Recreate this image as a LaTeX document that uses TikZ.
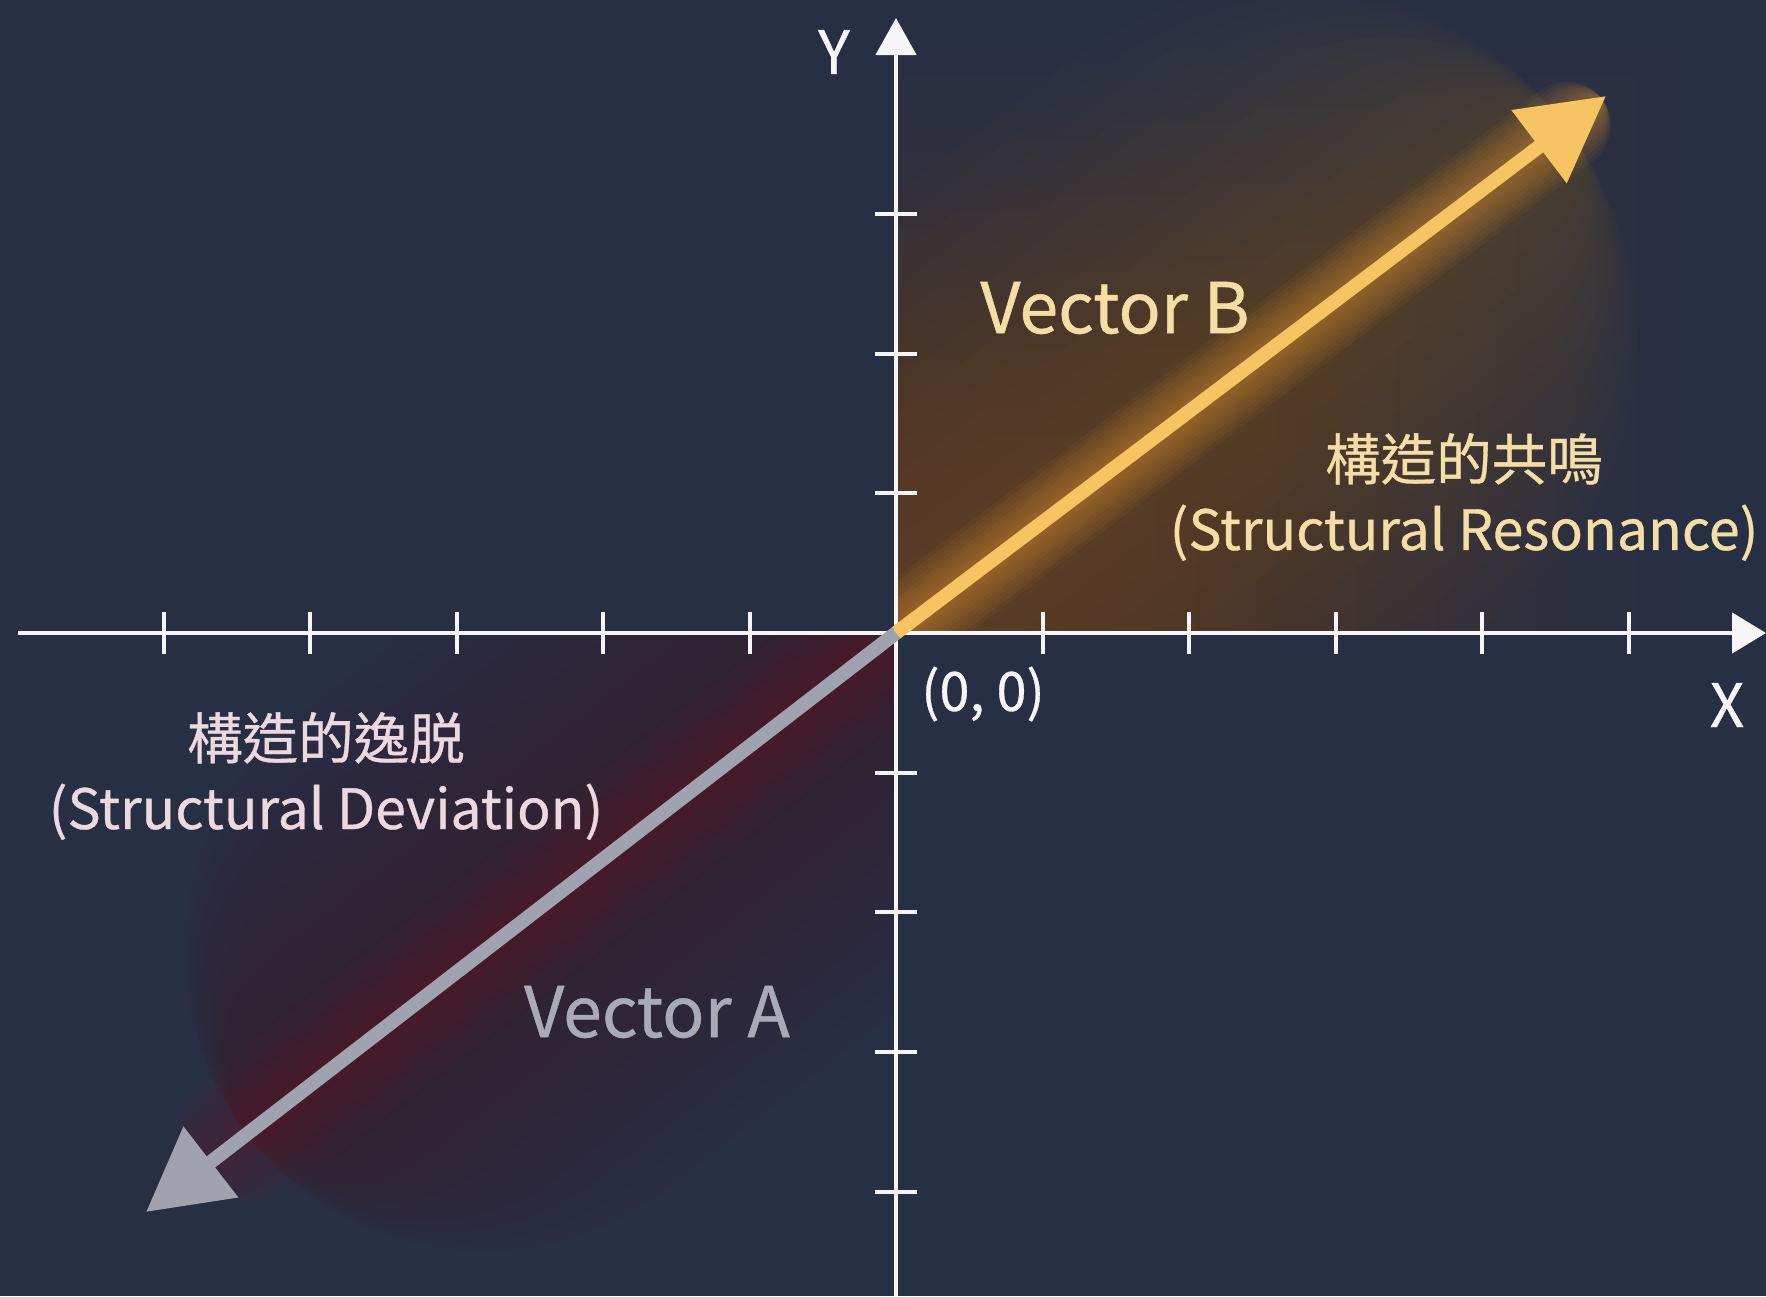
\documentclass[tikz,border=0pt]{standalone}
\usepackage{fontspec}
\setmainfont{Noto Sans CJK TC}[FakeBold=0.6]
\usetikzlibrary{arrows.meta,calc}
\definecolor{bg}{RGB}{39,47,69}
\definecolor{gold}{RGB}{246,196,98}
\definecolor{goldtxt}{RGB}{245,222,165}
\definecolor{tintB}{RGB}{165,108,38}
\definecolor{glowB}{RGB}{232,150,45}
\definecolor{tintA}{RGB}{95,14,26}
\definecolor{glowA}{RGB}{140,16,24}
\definecolor{greyvec}{RGB}{160,163,175}
\definecolor{greytxt}{RGB}{168,170,184}
\definecolor{pinktxt}{RGB}{236,216,222}
\definecolor{axiscol}{RGB}{246,246,248}
\tikzset{
  axisline/.style={draw=axiscol, line width=4.5pt},
  tickline/.style={draw=axiscol, line width=4pt},
  vecB/.style={draw=gold, line width=14pt, -{Triangle[length=84pt,width=88pt]}},
  vecA/.style={draw=greyvec, line width=14pt, -{Triangle[length=82pt,width=86pt]}},
  lbl/.style={inner sep=0pt, align=center},
}
\begin{document}
\begin{tikzpicture}[x=1pt,y=-1pt]
\fill[bg] (0,0) rectangle (1766,1296);
\useasboundingbox (0,0) rectangle (1766,1296);

\coordinate (O) at (896,633);
\coordinate (BT) at (1606,96);
\coordinate (AT) at (146,1212);
\coordinate (xL) at (18,633);
\coordinate (xR) at (1766,633);
\coordinate (yT) at (896,18);
\coordinate (yB) at (896,1296);

% glow of quadrant I
\begin{scope}
  \clip (896,633) rectangle (1766,0);
  \foreach \k in {0,...,29}
    \fill[tintB, opacity=0.013] (O) rectangle ++({200+\k*20},{-(150+\k*15)});
  \foreach \w in {100,150,...,700}{
    \pgfmathsetmacro\f{(840-\w/2)/890}
    \draw[tintB, opacity=0.024, line width=\w pt, line cap=round] (O) -- ($(O)!\f!(BT)$);
  }
  \foreach \w in {16,24,...,88}{
    \pgfmathsetmacro\f{(885-\w/2)/890}
    \draw[glowB, opacity=0.06, line width=\w pt, line cap=round] (O) -- ($(O)!\f!(BT)$);
  }
\end{scope}

% glow of quadrant III
\begin{scope}
  \clip (0,633) rectangle (896,1296);
  \foreach \w in {100,150,...,600}{
    \pgfmathsetmacro\f{(820-\w/2)/947}
    \draw[tintA, opacity=0.035, line width=\w pt, line cap=round] (O) -- ($(O)!\f!(AT)$);
  }
  \foreach \w in {20,40,...,140}{
    \pgfmathsetmacro\f{(890-\w/2)/947}
    \draw[glowA, opacity=0.045, line width=\w pt, line cap=round] (O) -- ($(O)!\f!(AT)$);
  }
\end{scope}

% axes
\draw[axisline, -{Triangle[length=34pt,width=40pt]}] (xL) -- (xR);
\draw[axisline, -{Triangle[length=37pt,width=40pt]}] (yB) -- (yT);
\foreach \i in {-5,-4,-3,-2,-1,1,2,3,4,5}
  \draw[tickline] ({896+\i*146.5},612) -- ({896+\i*146.5},654);
\foreach \j in {-3,-2,-1,1,2,3,4}
  \draw[tickline] (875,{633+\j*139.7}) -- (917,{633+\j*139.7});

% vectors
\draw[vecB] (O) -- (BT);
\draw[vecA] (O) -- (AT);

% labels
\node[lbl, text=axiscol, font=\fontsize{60}{60}\selectfont] (ylab) at (834,52) {Y};
\node[lbl, text=axiscol, font=\fontsize{60}{60}\selectfont] (xlab) at (1727,705) {X};
\node[lbl, text=axiscol, font=\fontsize{54}{54}\selectfont] (orig) at (983,694) {(0, 0)};
\node[lbl, text=goldtxt, font=\fontsize{70}{70}\selectfont] (vb) at (1115,308) {Vector B};
\node[lbl, text=greytxt, font=\fontsize{70}{70}\selectfont] (va) at (657,1012) {Vector A};
\node[lbl, text=goldtxt, font=\fontsize{55.5}{70}\selectfont] (res) at (1464,497) {構造的共鳴\\(Structural Resonance)};
\node[lbl, text=pinktxt, font=\fontsize{55.5}{70}\selectfont] (dev) at (326,776) {構造的逸脱\\(Structural Deviation)};
\end{tikzpicture}
\end{document}
